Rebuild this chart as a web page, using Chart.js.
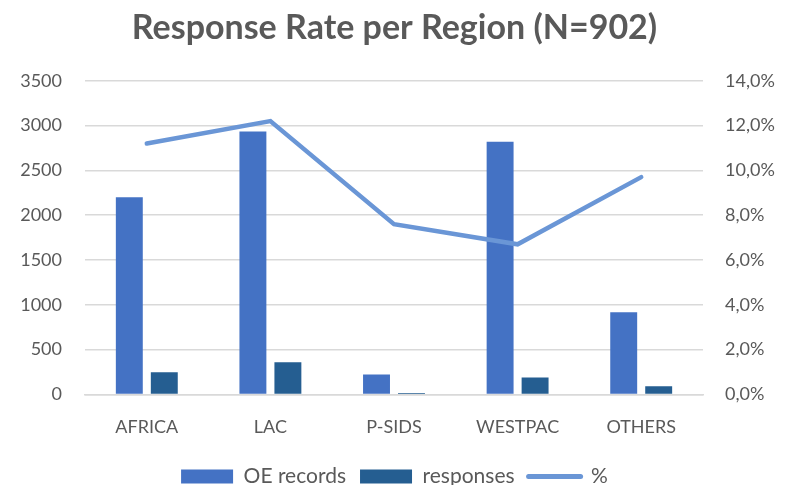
<!DOCTYPE html>
<html lang="en">
<head>
    <meta charset="UTF-8">
    <title>Response Rate per Region</title>
    <script src="https://cdn.jsdelivr.net/npm/chart.js"></script>
    <style>
        html, body { margin: 0; padding: 0; background: #ffffff; }
        #chart-container { width: 789px; height: 485px; }
        #regionChart { width: 100% !important; height: 100% !important; }
    </style>
</head>
<body>
    <div id="chart-container">
        <canvas id="regionChart"></canvas>
    </div>

    <script>
        // Datos
        const regions = ['AFRICA', 'LAC', 'P-SIDS', 'WESTPAC', 'OTHERS'];
        const oeRecords = [2200, 2935, 222, 2821, 916];
        const responses = [246, 358, 17, 190, 91];
        const responseRate = [11.2, 12.2, 7.6, 6.7, 9.7];

        const textColor = '#595959';
        const fontFamily = 'Lato, "Open Sans", sans-serif';

        const ctx = document.getElementById('regionChart').getContext('2d');

        const regionChart = new Chart(ctx, {
            type: 'bar',
            data: {
                labels: regions,
                datasets: [
                    {
                        label: 'OE records',
                        data: oeRecords,
                        backgroundColor: '#4472C4',
                        yAxisID: 'y',
                        categoryPercentage: 0.566,
                        barPercentage: 0.77,
                        order: 2
                    },
                    {
                        label: 'responses',
                        data: responses,
                        backgroundColor: '#255E91',
                        yAxisID: 'y',
                        categoryPercentage: 0.566,
                        barPercentage: 0.77,
                        order: 3
                    },
                    {
                        type: 'line',
                        label: '%',
                        data: responseRate,
                        borderColor: '#6A96D6',
                        backgroundColor: '#6A96D6',
                        borderWidth: 4.5,
                        borderCapStyle: 'round',
                        pointRadius: 0,
                        tension: 0,
                        yAxisID: 'y1',
                        order: 1
                    }
                ]
            },
            options: {
                responsive: true,
                maintainAspectRatio: false,
                animation: false,
                layout: { padding: { top: 6, left: 0, right: 0, bottom: -12 } },
                plugins: {
                    title: {
                        display: true,
                        text: 'Response Rate per Region (N=902)',
                        color: textColor,
                        font: { family: fontFamily, size: 34, weight: 'bold' },
                        padding: { top: 2, bottom: 32 }
                    },
                    legend: {
                        position: 'bottom',
                        labels: {
                            color: textColor,
                            font: { family: fontFamily, size: 21 },
                            usePointStyle: true,
                            pointStyleWidth: 52,
                            boxHeight: 14,
                            padding: 14,
                            sort: function (a, b) { return a.datasetIndex - b.datasetIndex; },
                            generateLabels: function (chart) {
                                const items = Chart.defaults.plugins.legend.labels.generateLabels(chart);
                                items.forEach(function (item) {
                                    const ds = chart.data.datasets[item.datasetIndex];
                                    if (ds.type === 'line') {
                                        item.pointStyle = 'line';
                                        item.lineWidth = 5;
                                        item.lineCap = 'round';
                                    } else {
                                        item.pointStyle = 'rect';
                                        item.lineWidth = 0;
                                    }
                                });
                                return items;
                            }
                        }
                    },
                    tooltip: { enabled: false }
                },
                scales: {
                    x: {
                        grid: { display: false },
                        border: { color: '#D9D9D9', width: 1.5 },
                        ticks: {
                            color: textColor,
                            font: { family: fontFamily, size: 18 },
                            padding: 14
                        }
                    },
                    y: {
                        position: 'left',
                        min: 0,
                        max: 3500,
                        afterFit: function (scale) { scale.width = 85; },
                        ticks: {
                            stepSize: 500,
                            color: textColor,
                            font: { family: fontFamily, size: 18 },
                            padding: 23,
                            callback: function (value) { return String(value); }
                        },
                        grid: { color: '#D9D9D9', lineWidth: 1.5, drawTicks: false },
                        border: { display: false }
                    },
                    y1: {
                        position: 'right',
                        min: 0,
                        max: 14,
                        afterFit: function (scale) { scale.width = 86; },
                        ticks: {
                            stepSize: 2,
                            color: textColor,
                            font: { family: fontFamily, size: 18 },
                            padding: 22,
                            callback: function (value) {
                                return value.toFixed(1).replace('.', ',') + '%';
                            }
                        },
                        grid: { display: false, drawTicks: false },
                        border: { display: false }
                    }
                }
            }
        });
    </script>
</body>
</html>
